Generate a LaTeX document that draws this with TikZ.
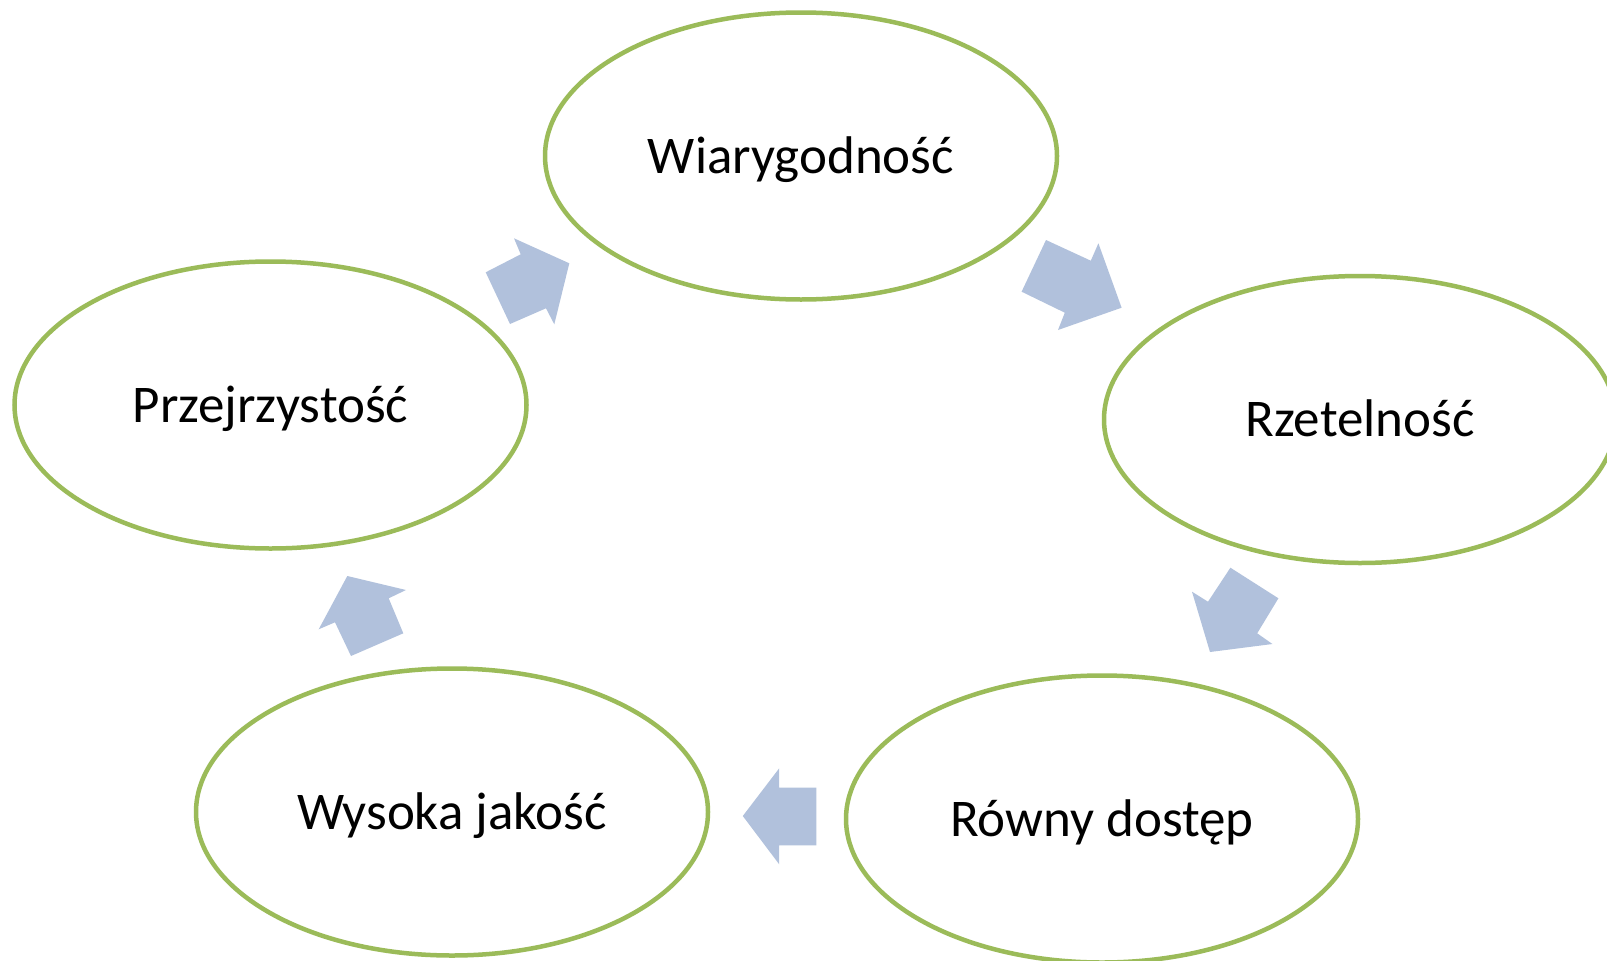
\documentclass[tikz,border=0pt]{standalone}
\usepackage{fontspec}
\setmainfont{Carlito}
\usetikzlibrary{shapes.geometric}
\definecolor{ringgreen}{HTML}{9BBB59}
\definecolor{arrowblue}{HTML}{B1C1DC}
\tikzset{
  ring/.style={ellipse, draw=ringgreen, line width=4.5pt, fill=white,
    minimum width=512pt, minimum height=287pt, inner sep=0pt,
    font=\fontsize{53pt}{60pt}\selectfont, text height=34pt, text depth=0pt},
  blockarrow/.style={fill=arrowblue, draw=none}
}
\begin{document}
\begin{tikzpicture}[x=1pt,y=-1pt]
\useasboundingbox (0,0) rectangle (1607,961);
\fill[white] (0,0) rectangle (1607,961);
\node[ring] (wiar) at (801,156) {Wiarygodność};
\node[ring] (rzet) at (1360,419.5) {Rzetelność};
\node[ring] (rown) at (1102,819) {Równy dostęp};
\node[ring] (wys) at (452,812) {Wysoka jakość};
\node[ring] (przej) at (270.5,405) {Przejrzystość};
% block arrows
\fill[blockarrow] (1046,240) -- (1090.8,260.7) -- (1098.4,243.3) -- (1121.6,307.7) -- (1058,330) -- (1064.8,312.7) -- (1021.6,291.7) -- cycle;
\fill[blockarrow] (1230.4,567.7) -- (1278.4,598.3) -- (1257.2,633.3) -- (1272.4,644) -- (1210,652) -- (1192,591.7) -- (1208,601.7) -- cycle;
\fill[blockarrow] (816.3,787.7) -- (779.2,787.7) -- (779.2,768.3) -- (742.8,816) -- (779.2,864.3) -- (779.2,845.3) -- (816.3,845.3) -- cycle;
\fill[blockarrow] (403.3,633.3) -- (388.7,598.3) -- (406,590) -- (347.3,576) -- (318.7,629.3) -- (335,622.3) -- (351,656) -- cycle;
\fill[blockarrow] (485.7,272.3) -- (520.7,254.3) -- (514,238.3) -- (569.3,263.3) -- (554.3,324.3) -- (546,308.3) -- (510,324) -- cycle;
\end{tikzpicture}
\end{document}
